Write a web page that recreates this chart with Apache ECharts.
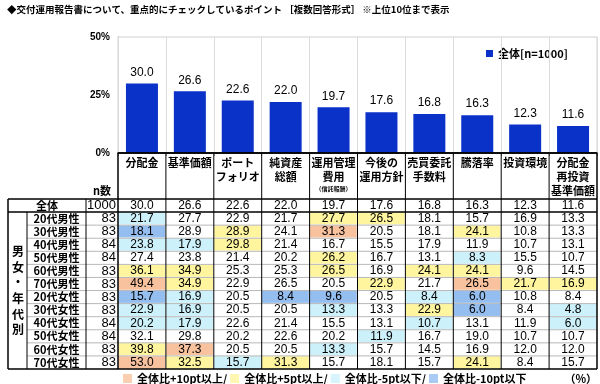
<!DOCTYPE html>
<html><head><meta charset="utf-8">
<script src="https://cdn.jsdelivr.net/npm/echarts@6/dist/echarts.min.js"></script>
<style>html,body{margin:0;padding:0;background:#fff}#c{width:600px;height:384px}</style>
</head><body><div id="c"></div>
<script>
// ---- data ----
const categories = ['分配金','基準価額','ポートフォリオ','純資産総額','運用管理費用（信託報酬）','今後の運用方針','売買委託手数料','騰落率','投資環境','分配金再投資基準価額'];
const headerLabels = ['分配金','基準価額','ポート\nフォリオ','純資産\n総額','運用管理\n費用\n{s|（信託報酬）}','今後の\n運用方針','売買委託\n手数料','騰落率','投資環境','分配金\n再投資\n基準価額'];
const totalValues = [30.0,26.6,22.6,22.0,19.7,17.6,16.8,16.3,12.3,11.6];
const yTicks = [0,25,50];
const rowNames = ['全体','20代男性','30代男性','40代男性','50代男性','60代男性','70代男性','20代女性','30代女性','40代女性','50代女性','60代女性','70代女性'];
const rowN = [1000,83,83,84,84,83,83,83,83,84,84,83,83];
const tableRows = [
  [30.0,26.6,22.6,22.0,19.7,17.6,16.8,16.3,12.3,11.6],
  [21.7,27.7,22.9,21.7,27.7,26.5,18.1,15.7,16.9,13.3],
  [18.1,28.9,28.9,24.1,31.3,20.5,18.1,24.1,10.8,13.3],
  [23.8,17.9,29.8,21.4,16.7,15.5,17.9,11.9,10.7,13.1],
  [27.4,23.8,21.4,20.2,26.2,16.7,13.1,8.3,15.5,10.7],
  [36.1,34.9,25.3,25.3,26.5,16.9,24.1,24.1,9.6,14.5],
  [49.4,34.9,22.9,26.5,20.5,22.9,21.7,26.5,21.7,16.9],
  [15.7,16.9,20.5,8.4,9.6,20.5,8.4,6.0,10.8,8.4],
  [22.9,16.9,20.5,20.5,13.3,13.3,22.9,6.0,8.4,4.8],
  [20.2,17.9,22.6,21.4,15.5,13.1,10.7,13.1,11.9,6.0],
  [32.1,29.8,20.2,22.6,20.2,11.9,16.7,19.0,10.7,10.7],
  [39.8,37.3,20.5,20.5,13.3,15.7,14.5,16.9,12.0,12.0],
  [53.0,32.5,15.7,31.3,15.7,18.1,15.7,24.1,8.4,15.7]
];
const legendNames = ['全体比+10pt以上/','全体比+5pt以上/','全体比-5pt以下/','全体比-10pt以下'];
const groupLabel = '男女・年代別';

// ---- styles ----
const CJK = "'Noto Sans CJK JP', sans-serif";
const NUM = "'Liberation Sans', Arial, sans-serif";
const BAR = '#0A32C8';
const C_UP10 = '#F9C29E', C_UP5 = '#FFF59E', C_DN5 = '#CDF1FB', C_DN10 = '#94BDF0';
const legendColors = [C_UP10, C_UP5, C_DN5, C_DN10];
function cellColor(r, c) {
  if (r === 0) return '#fff';
  const d = Math.round((tableRows[r][c] - tableRows[0][c]) * 10) / 10;
  if (d >= 10) return C_UP10;
  if (d >= 5) return C_UP5;
  if (d <= -10) return C_DN10;
  if (d <= -5) return C_DN5;
  return '#fff';
}
const heatData = [];
tableRows.forEach((row, r) => row.forEach((v, c) => heatData.push({value: [c, r, v], itemStyle: {color: cellColor(r, c)}})));

// ---- layout ----
const G0 = {left: 118, top: 37, width: 479, height: 116};
const G1 = {left: 118, top: 199, width: 479, height: 170};
const X0 = 8, XG = 27, XL = 86;
const XR = G1.left + G1.width, YH = G0.top + G0.height, YT = G1.top, YB = G1.top + G1.height;
const rh = G1.height / rowNames.length, cw = G1.width / categories.length;

const lines = [];
function ln(x1, y1, x2, y2, color, w) {
  lines.push({type: 'line', z: 100, shape: {x1, y1, x2, y2}, style: {stroke: color, lineWidth: w}, silent: true});
}
for (let i = 2; i < rowNames.length; i++) ln(XG, YT + rh * i, XR, YT + rh * i, '#b8b8b8', 1);
ln(X0, YT, XR, YT, '#000', 1.5);
ln(X0, YT + rh, XR, YT + rh, '#000', 1.5);
ln(X0, YB, XR, YB, '#000', 1.5);
ln(G0.left, YH, XR, YH, '#000', 1.5);
ln(X0, YT, X0, YB, '#000', 1.5);
ln(XG, YT + rh, XG, YB, '#000', 1);
ln(XL, YT, XL, YB, '#000', 1);
ln(G1.left, YH, G1.left, YB, '#000', 1.5);
for (let j = 1; j < categories.length; j++) ln(G1.left + cw * j, YH, G1.left + cw * j, YB, '#000', 1);
ln(XR, YH, XR, YB, '#000', 1.5);

const texts = [
  {type: 'text', z: 101, x: (X0 + XG) / 2 + 0.5, y: (YT + rh + YB) / 2, style: {text: groupLabel.split('').join('\n'), fontSize: 12, fontWeight: 'bold', fontFamily: CJK, lineHeight: 15.6, align: 'center', verticalAlign: 'middle', fill: '#000'}},
  {type: 'text', z: 101, x: (XL + G1.left) / 2, y: YT - 8, style: {text: 'n数', fontSize: 11, fontWeight: 'bold', fontFamily: CJK, align: 'center', verticalAlign: 'middle', fill: '#000'}},
  {type: 'text', z: 101, x: XR, y: 379, style: {text: '（%）', fontSize: 11, fontWeight: 'bold', fontFamily: CJK, align: 'right', verticalAlign: 'middle', fill: '#000'}}
];

const chart = echarts.init(document.getElementById('c'), null, {renderer: 'canvas'});
chart.setOption({
  animation: false,
  backgroundColor: '#fff',
  title: {text: '◆交付運用報告書について、重点的にチェックしているポイント ［複数回答形式］ ※上位10位まで表示', left: 7, top: 5, padding: 0,
    textStyle: {fontSize: 9.5, fontWeight: 'bold', fontFamily: CJK, color: '#000'}},
  legend: [
    {data: ['全体[n=1000]'], left: 486, top: 48, padding: 0, icon: 'rect', itemWidth: 7, itemHeight: 7,
      textStyle: {fontSize: 11, fontWeight: 'bold', fontFamily: CJK, color: '#000'}},
    {data: legendNames, left: 123, top: 373, padding: 0, icon: 'rect', itemWidth: 9, itemHeight: 9, itemGap: 3,
      textStyle: {fontSize: 11, fontWeight: 'bold', fontFamily: CJK, color: '#000'}}
  ],
  grid: [
    Object.assign({show: true, borderColor: '#d0d0d0', borderWidth: 1, containLabel: false}, G0),
    Object.assign({show: false, containLabel: false}, G1)
  ],
  xAxis: [
    {type: 'category', gridIndex: 0, data: categories, z: 5,
      axisLine: {show: true, lineStyle: {color: '#000', width: 1.5}},
      axisTick: {show: true, length: 3, lineStyle: {color: '#999'}},
      splitLine: {show: true, lineStyle: {color: '#dcdcdc', width: 1}},
      axisLabel: {interval: 0, margin: 3, fontSize: 11, fontWeight: 'bold', fontFamily: CJK, color: '#000', lineHeight: 14,
        verticalAlign: 'top',
        formatter: (v, i) => headerLabels[i],
        rich: {s: {fontSize: 6, lineHeight: 9, fontWeight: 'bold', fontFamily: CJK, color: '#000'}}}},
    {type: 'category', gridIndex: 1, data: categories, show: false}
  ],
  yAxis: [
    {type: 'value', gridIndex: 0, min: yTicks[0], max: yTicks[yTicks.length - 1], interval: yTicks[1] - yTicks[0],
      axisLine: {show: true, lineStyle: {color: '#a0a0a0'}}, axisTick: {show: false}, splitLine: {show: false},
      axisLabel: {formatter: '{value}%', margin: 8, fontSize: 10, fontWeight: 'bold', fontFamily: NUM, color: '#000'}},
    {type: 'category', gridIndex: 1, data: rowNames, inverse: true,
      axisLine: {show: false}, axisTick: {show: false}, splitLine: {show: false},
      axisLabel: {interval: 0, margin: 2, color: '#000', hideOverlap: false,
        formatter: (v, i) => (i === 0 ? '{w|' + v + '}' : '{a|' + v + '}') + '{n|' + rowN[i] + '}',
        rich: {
          w: {width: XL - X0, align: 'center', fontSize: 11, fontWeight: 'bold', fontFamily: CJK, color: '#000'},
          a: {width: XL - XG, align: 'center', fontSize: 11, fontWeight: 'bold', fontFamily: CJK, color: '#000'},
          n: {width: G1.left - XL - 2, align: 'right', fontSize: 13, fontFamily: NUM, color: '#000'}
        }}}
  ],
  series: [
    {name: '全体[n=1000]', type: 'bar', xAxisIndex: 0, yAxisIndex: 0, data: totalValues, barWidth: 32,
      itemStyle: {color: BAR},
      label: {show: true, position: 'top', distance: 5, fontSize: 12, fontFamily: NUM, color: '#000', formatter: p => p.value.toFixed(1)}},
    {type: 'heatmap', xAxisIndex: 1, yAxisIndex: 1, data: heatData,
      itemStyle: {borderColor: '#fff', borderWidth: 1},
      label: {show: true, fontSize: 12, fontFamily: NUM, color: '#000', formatter: p => p.value[2].toFixed(1)},
      emphasis: {disabled: true}},
    ...legendNames.map((n, i) => ({name: n, type: 'scatter', xAxisIndex: 1, yAxisIndex: 1, data: [], itemStyle: {color: legendColors[i]}}))
  ],
  graphic: lines.concat(texts)
});
</script>
</body></html>
